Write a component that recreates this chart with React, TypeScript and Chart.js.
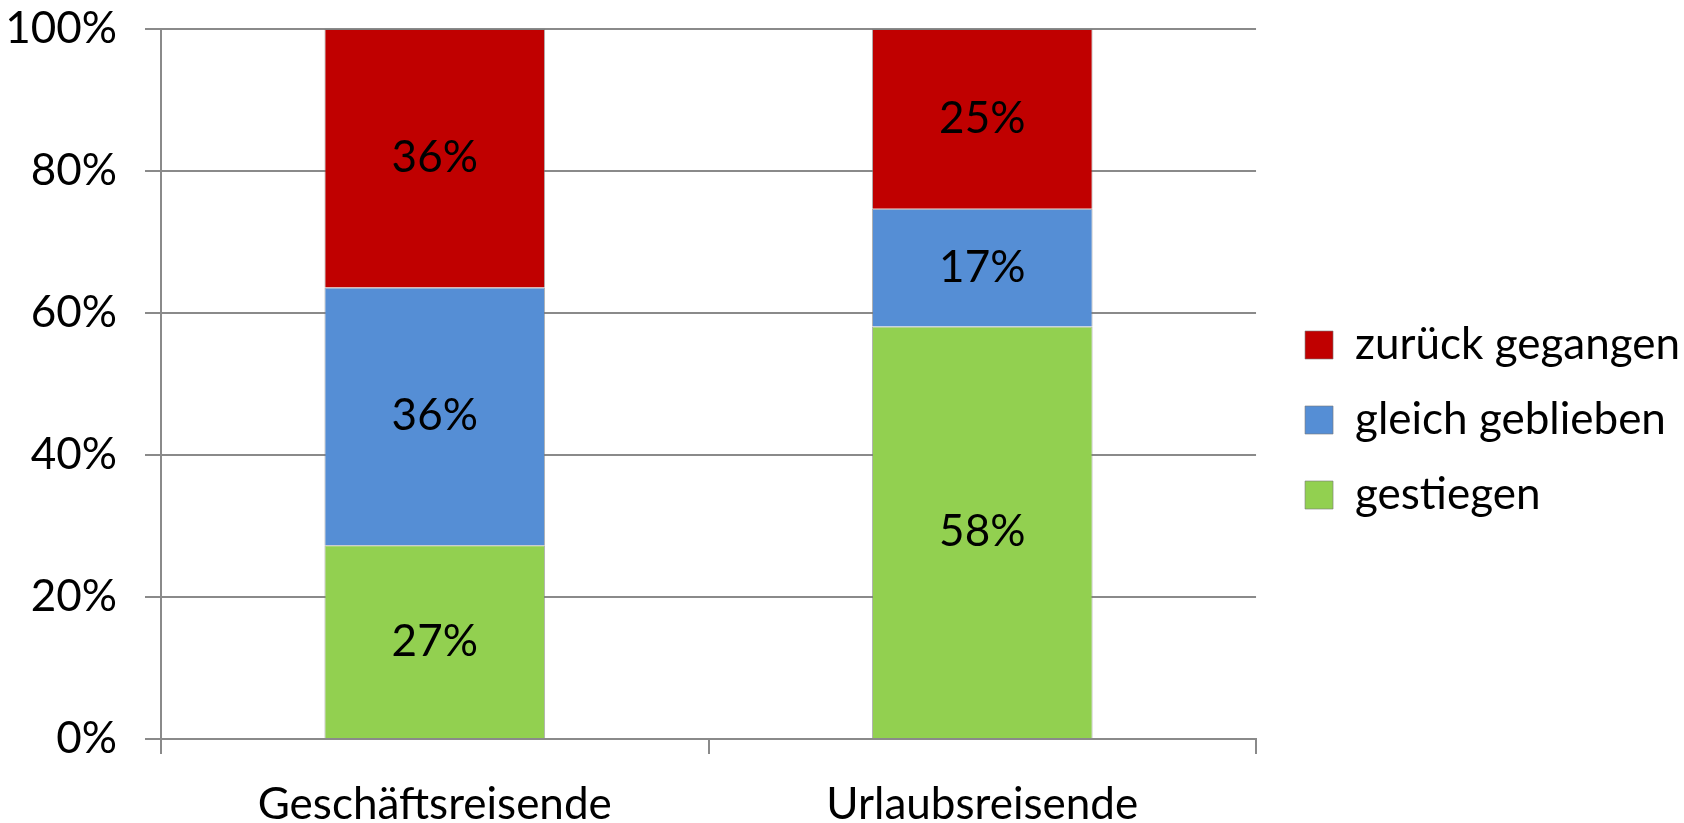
import React, { useEffect, useRef } from "react";
import { Chart, registerables } from "chart.js";

Chart.register(...registerables);

const categories = ["Geschäftsreisende", "Urlaubsreisende"];
const seriesNames = ["gestiegen", "gleich geblieben", "zurück gegangen"];
const gestiegen = [27.3, 58.1];
const gleichGeblieben = [36.3, 16.6];
const zurueckGegangen = [36.4, 25.3];
const yTicks = [0, 20, 40, 60, 80, 100];

const COLORS = ["#92D050", "#558ED5", "#C00000"];
const FONT = "Lato, 'Open Sans', sans-serif";
const FS = 44;
const GRID = "#8a8a8a";

const labelPlugin = {
  id: "segLabels",
  afterDatasetsDraw(chart: any) {
    const ctx = chart.ctx;
    ctx.save();
    ctx.font = `${FS}px ${FONT}`;
    ctx.fillStyle = "#000";
    ctx.textAlign = "center";
    ctx.textBaseline = "middle";
    chart.data.datasets.forEach((ds: any, di: number) => {
      const meta = chart.getDatasetMeta(di);
      meta.data.forEach((bar: any, i: number) => {
        const v = ds.data[i];
        const c = bar.getCenterPoint();
        ctx.fillText(Math.round(v) + "%", c.x, c.y);
      });
    });
    ctx.restore();
  },
};

const legendShift = {
  id: "legendShift",
  afterLayout(chart: any) {
    const lg = chart.legend;
    if (lg) {
      lg.left += 18;
      lg.right += 18;
      lg.top -= 6;
      lg.bottom -= 6;
    }
  },
};

export default function App() {
  const ref = useRef<HTMLCanvasElement>(null);
  useEffect(() => {
    const values = [gestiegen, gleichGeblieben, zurueckGegangen];
    const chart = new Chart(ref.current!, {
      type: "bar",
      data: {
        labels: categories,
        datasets: seriesNames.map((name, k) => ({
          label: name,
          data: values[k],
          backgroundColor: COLORS[k],
          borderColor: "rgba(120,120,120,0.6)",
          borderWidth: 1,
          categoryPercentage: 1,
          barPercentage: 0.403,
        })),
      },
      options: {
        responsive: false,
        animation: false,
        layout: { padding: { top: 29, right: 12, bottom: 0, left: 0 } },
        plugins: {
          tooltip: { enabled: false },
          legend: {
            position: "right",
            reverse: true,
            labels: {
              boxWidth: 28,
              boxHeight: 28,
              padding: 31,
              color: "#000",
              font: { family: FONT, size: FS },
            },
          },
        },
        scales: {
          x: {
            stacked: true,
            grid: {
              display: true,
              drawOnChartArea: false,
              drawTicks: true,
              tickLength: 15,
              color: GRID,
              lineWidth: 2,
              offset: true,
            },
            border: { display: true, color: GRID, width: 2 },
            ticks: {
              color: "#000",
              font: { family: FONT, size: FS },
              padding: 24,
              maxRotation: 0,
            },
            afterFit(scale: any) {
              scale.height = 823 - 739;
            },
          },
          y: {
            stacked: true,
            min: 0,
            max: 100,
            afterBuildTicks(scale: any) {
              scale.ticks = yTicks.map((v) => ({ value: v }));
            },
            grid: {
              color: GRID,
              lineWidth: 2,
              tickLength: 16,
            },
            border: { display: true, color: GRID, width: 2 },
            ticks: {
              color: "#000",
              font: { family: FONT, size: FS },
              padding: 28,
              callback: (v: any) => v + "%",
            },
            afterFit(scale: any) {
              scale.width = 161;
              scale.paddingTop = 0;
              scale.paddingBottom = 0;
            },
          },
        },
      },
      plugins: [labelPlugin, legendShift],
    });
    return () => chart.destroy();
  }, []);
  return (
    <div style={{ position: "absolute", left: 0, top: 0, width: 1684, height: 823, background: "#fff" }}>
      <canvas ref={ref} width={1684} height={823} style={{ display: "block" }} />
    </div>
  );
}
